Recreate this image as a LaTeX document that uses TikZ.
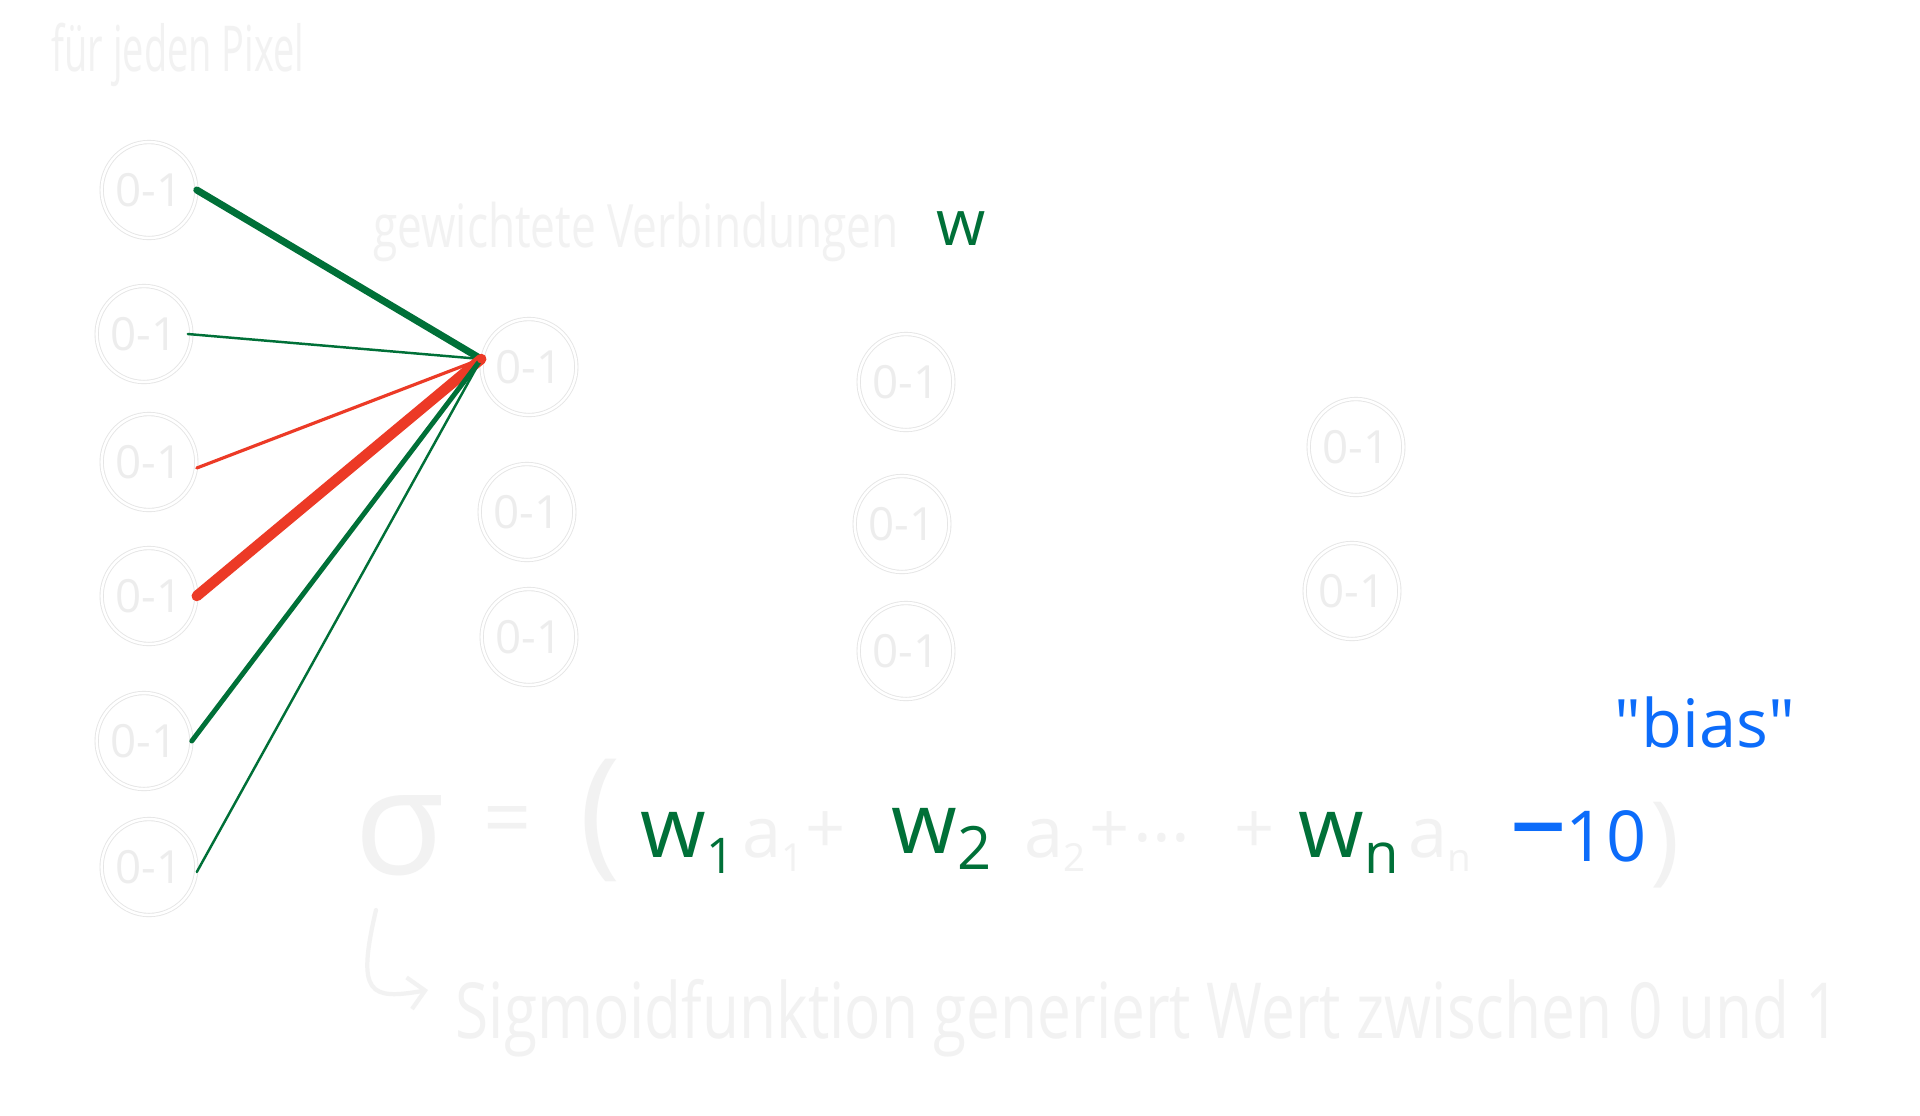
\documentclass[tikz,border=0pt]{standalone}
\usepackage{fontspec}
\setmainfont{Open Sans}
\newfontfamily\rawfont{Open Sans}
\usetikzlibrary{arrows.meta,shapes.geometric}

\definecolor{wgreen}{RGB}{0,112,56}
\definecolor{wred}{RGB}{236,58,38}
\definecolor{wblue}{RGB}{12,108,250}
\colorlet{faint}{black!5}

\newcommand{\fsz}[1]{\fontsize{#1}{#1}\selectfont}
\newcommand{\wsub}[2]{\raisebox{-0.2em}{\fsz{#1}#2}}

\tikzset{
    unit/.style={ellipse,draw=black!10,double=white,double distance=0.7pt,line width=0.25pt,
        minimum width=9mm,minimum height=9.6mm,inner sep=0pt,text=black!7,font=\fsz{13}},
    faintlbl/.style={text=faint,inner sep=0pt},
    greenlbl/.style={text=wgreen,inner sep=0pt},
    bluelbl/.style={text=wblue,inner sep=0pt},
    conn/.style={line cap=round},
}

\begin{document}
\begin{tikzpicture}[x=0.1mm,y=-0.1mm,>=Stealth]
    \fill[white] (0,0) rectangle (1920,1115);
    \useasboundingbox (0,0) rectangle (1920,1115);

    \node[faintlbl,font=\fsz{18}] (title) at (178,55) {\scalebox{0.6}[1]{für jeden Pixel}};

    % Input layer
    \foreach \i/\px/\py in {1/149/190,2/144/334,3/149/462,4/149/596,5/144/741,6/149/867}
        \node[unit] (in\i) at (\px,\py) {0-1};

    % Hidden layers
    \node[unit] (hid1) at (529,367) {0-1};
    \node[unit] (hid2) at (527,512) {0-1};
    \node[unit] (hid3) at (529,637) {0-1};
    \node[unit] (mid1) at (906,382) {0-1};
    \node[unit] (mid2) at (902,524) {0-1};
    \node[unit] (mid3) at (906,651) {0-1};
    \node[unit] (out1) at (1356,447) {0-1};
    \node[unit] (out2) at (1352,591) {0-1};

    % Weighted connections
    \coordinate (hub) at ([yshift=0.8mm]hid1.west);
    \draw[conn,wgreen,line width=2pt] (in1.east) -- (hub);
    \draw[conn,wgreen,line width=0.7pt] ([xshift=-0.4mm]in2.east) -- (hub);
    \draw[conn,wred,line width=0.9pt] ([yshift=-0.6mm]in3.east) -- (hub);
    \draw[conn,wred,line width=3pt] (in4.east) -- (hub);
    \draw[conn,wgreen,line width=1.4pt] (in5.east) -- (hub);
    \draw[conn,wgreen,line width=0.7pt] ([yshift=-0.5mm]in6.east) -- (hub);
    \fill[wred] (hub) circle (0.45mm);

    \node[faintlbl,font=\fsz{17}] (gew) at (636,232) {\scalebox{0.74}[1]{gewichtete Verbindungen}};
    \node[greenlbl,font=\fsz{18}] (wlbl) at (961,229) {w};

    % Formula
    \node[faintlbl,font=\fsz{42}] (sig) at (400,836) {σ};
    \node[faintlbl,font=\fsz{24}] (eq) at (508,827) {=};
    \node[faintlbl,font=\fsz{40}] (lpar) at (600,820) {(};
    \node[greenlbl,font=\fsz{24},anchor=base west] (w1) at (640,857) {w\wsub{14}{1}};
    \node[faintlbl,font=\fsz{20},anchor=base west] (a1) at (742,857) {a\wsub{11}{1}};
    \node[faintlbl,font=\fsz{20}] (p1) at (826,833) {+};
    \node[greenlbl,font=\fsz{24},anchor=base west] (w2) at (891,853) {w\wsub{17}{2}};
    \node[faintlbl,font=\fsz{20},anchor=base west] (a2) at (1024,857) {a\wsub{11}{2}};
    \node[faintlbl,font=\fsz{20}] (p2) at (1110,833) {+};
    \node[faintlbl,font=\fsz{20}] (dots) at (1162,838) {...};
    \node[faintlbl,font=\fsz{20}] (p3) at (1255,833) {+};
    \node[greenlbl,font=\fsz{24},anchor=base west] (wn) at (1298,857) {w\wsub{16}{n}};
    \node[faintlbl,font=\fsz{20},anchor=base west] (an) at (1408,857) {a\wsub{11}{n}};
    \node[bluelbl,font=\fsz{32}] (minus) at (1539,840) {\textendash};
    \node[bluelbl,font=\fsz{20}] (ten) at (1606,836) {10};
    \node[faintlbl,font=\fsz{28}] (rpar) at (1665,845) {)};
    \node[bluelbl,font=\fsz{19}] (bias) at (1705,722) {{\rawfont"}bias{\rawfont"}};

    % Sigmoid note
    \draw[faint,line width=1.2pt,line cap=round,-{Straight Barb[length=1.6mm]}]
        (376,910) .. controls (356,995) and (370,1000) .. (428,990);
    \node[faintlbl,font=\fsz{22},anchor=west] (note) at (455,1018)
        {\scalebox{0.78}[1]{Sigmoidfunktion generiert Wert zwischen 0 und 1}};
\end{tikzpicture}
\end{document}
